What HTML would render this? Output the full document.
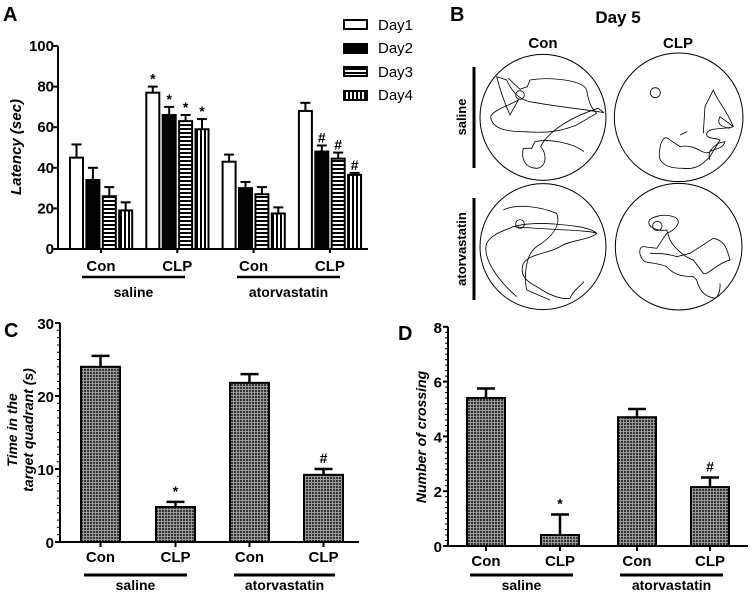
<!DOCTYPE html>
<html><head><meta charset="utf-8"><style>
body{margin:0;background:#fff}
svg{display:block;font-family:"Liberation Sans",sans-serif;font-weight:bold}
</style></head><body>
<svg id="fig" width="750" height="594" viewBox="0 0 750 594">
<defs>
<pattern id="dots" width="3" height="3" patternUnits="userSpaceOnUse"><rect width="3" height="3" fill="#9a9a9a"/><rect width="2" height="2" fill="#333"/></pattern>
<pattern id="hstripe" width="4" height="4" patternUnits="userSpaceOnUse"><rect width="4" height="4" fill="#fff"/><rect width="4" height="2" fill="#000"/></pattern>
<pattern id="vstripe" width="4" height="4" patternUnits="userSpaceOnUse"><rect width="4" height="4" fill="#fff"/><rect width="2" height="4" fill="#000"/></pattern>
</defs>

<!-- Panel A -->
<g id="panelA">
<text x="3" y="21" font-size="20">A</text>
<text transform="translate(21,147) rotate(-90)" text-anchor="middle" font-size="15" font-style="italic">Latency (sec)</text>
<g id="aAxes"></g><g id="aBars"></g>
<g>
<g><rect x="344" y="20" width="23" height="9" fill="#fff" stroke="#000" stroke-width="2"/><text x="378" y="30" font-size="15" font-weight="normal">Day1</text></g>
<g><rect x="344" y="44" width="23" height="9" fill="#000" stroke="#000" stroke-width="2"/><text x="378" y="53" font-size="15" font-weight="normal">Day2</text></g>
<g><rect x="344" y="67" width="23" height="9" fill="url(#hstripe)" stroke="#000" stroke-width="2"/><text x="378" y="77" font-size="15" font-weight="normal">Day3</text></g>
<g><rect x="344" y="91" width="23" height="9" fill="url(#vstripe)" stroke="#000" stroke-width="2"/><text x="378" y="100" font-size="15" font-weight="normal">Day4</text></g>
</g>
</g>

<!-- Panel B -->
<g id="panelB" fill="none" stroke="#000">
<text x="450" y="21" font-size="20" fill="#000" stroke="none">B</text>
<text x="618" y="23" font-size="17" text-anchor="middle" fill="#000" stroke="none">Day 5</text>
<text x="543" y="48" font-size="15" text-anchor="middle" fill="#000" stroke="none">Con</text>
<text x="678" y="48" font-size="15" text-anchor="middle" fill="#000" stroke="none">CLP</text>
<line x1="474" y1="67" x2="474" y2="168" stroke-width="3"/>
<text transform="translate(466,117) rotate(-90)" font-size="13" text-anchor="middle" fill="#000" stroke="none">saline</text>
<line x1="474" y1="198" x2="474" y2="300" stroke-width="3"/>
<text transform="translate(466,249) rotate(-90)" font-size="13" text-anchor="middle" fill="#000" stroke="none">atorvastatin</text>
<g transform="translate(450,0) scale(0.3333)" stroke-width="2.5">
<circle cx="279" cy="352" r="189" stroke-width="3"/>
<circle cx="686" cy="352" r="193" stroke-width="3"/>
<circle cx="279" cy="740" r="189" stroke-width="3"/>
<circle cx="686" cy="740" r="190" stroke-width="3"/>
<circle cx="210" cy="285" r="13"/><circle cx="616" cy="278" r="15"/><circle cx="210" cy="672" r="13"/><circle cx="622" cy="678" r="14"/>
<path d="M402,455 C370,430 300,415 255,425 L245,445 L220,445 C212,480 228,505 262,505 C292,498 290,460 272,440 C300,385 380,345 445,325 L462,338 C420,330 320,320 240,305 C215,300 190,285 170,240 L140,230 C150,270 160,300 180,345 L205,300 C170,320 130,330 122,350 C125,380 155,395 220,395 C290,400 330,395 380,375 L440,340 C420,320 415,300 410,270 C400,240 300,230 240,240 L232,260 L210,268 L175,235"/>
<path d="M780,480 C770,455 790,440 805,430 L825,425 C818,450 790,445 780,455 C760,470 740,430 690,440 L660,420 C640,400 630,430 628,460 C625,490 650,505 700,505 C740,510 760,490 780,470 L810,420 C790,410 770,420 770,400 C780,380 820,390 850,380 C830,330 800,300 790,270 L765,320 L760,400 M850,380 L810,350 C800,370 810,380 840,385 M690,405 L712,395"/>
<path d="M402,845 C390,860 370,870 360,895 C330,900 290,880 260,860 C220,840 210,820 220,790 C240,760 300,760 330,740 C360,720 420,720 440,700 C420,680 350,675 310,672 C260,668 220,672 190,680 C170,690 125,700 110,730 C100,760 120,820 200,890 M160,630 C200,610 270,620 320,640 C335,680 300,715 260,740 C230,760 220,820 230,870 L300,900 M190,680 C300,690 420,690 440,700"/>
<path d="M810,850 C812,870 805,890 795,895 C770,890 750,880 740,840 L730,830 C700,830 670,825 650,800 C630,790 600,790 585,785 C565,770 565,740 580,740 L620,745 L650,700 C680,690 700,660 670,650 C640,640 610,650 598,660 C590,680 620,695 650,690 L660,720 C670,740 700,770 730,780 L760,820 C770,830 800,790 840,780 C830,740 820,720 790,715 L720,760 L680,770 C650,760 620,760 600,760"/>
</g>
</g>

<!-- Panel C -->
<g id="panelC">
<text x="4" y="337" font-size="20">C</text>
<text transform="translate(17,430) rotate(-90)" text-anchor="middle" font-size="14" font-style="italic">Time in the</text>
<text transform="translate(33,430) rotate(-90)" text-anchor="middle" font-size="14" font-style="italic">target quadrant (s)</text>
<g id="cChart"></g>
</g>

<!-- Panel D -->
<g id="panelD">
<text x="398" y="340" font-size="20">D</text>
<text transform="translate(426,437) rotate(-90)" text-anchor="middle" font-size="14" font-style="italic">Number of crossing</text>
<g id="dChart"></g>
</g>
</svg>
<script>
// Panel A data
const aGroups = ["Con","CLP","Con","CLP"];
const aDays = ["Day1","Day2","Day3","Day4"];
const aValues = [[45,34,26,19],[77,66,63,59],[43,30,27,17.5],[68,48,44.5,36.5]];
const aErrors = [[6.5,6,4.5,4],[3,4,3,5],[3.5,3,3.5,3],[4,3,3,1]];
const aMarks = [["","","",""],["*","*","*","*"],["","","",""],["","#","#","#"]];
const aTicks = [0,20,40,60,80,100];
// Panel C data
const cCategories = ["Con","CLP","Con","CLP"];
const cValues = [24,4.8,21.8,9.2];
const cErrors = [1.5,0.7,1.2,0.8];
const cMarks = ["","*","","#"];
const cTicks = [0,10,20,30];
// Panel D data
const dCategories = ["Con","CLP","Con","CLP"];
const dValues = [5.4,0.4,4.7,2.15];
const dErrors = [0.35,0.75,0.3,0.35];
const dMarks = ["","*","","#"];
const dTicks = [0,2,4,6,8];
const treatments = ["saline","atorvastatin"];

const NS="http://www.w3.org/2000/svg";
function mk(parent,tag,attrs,txt){const e=document.createElementNS(NS,tag);for(const k in attrs)e.setAttribute(k,attrs[k]);if(txt!==undefined)e.textContent=txt;parent.appendChild(e);return e;}

// ---- Panel A
(function(){
  const yA=v=>249-v*2.03;
  const ax=document.getElementById('aAxes'), bars=document.getElementById('aBars');
  const gx=g=>70+g*76.3, dx=d=>d*16.4, bw=13;
  const yl=mk(ax,'line',{x1:58,y1:yA(100),x2:58,y2:yA(0)+1,stroke:'#000','stroke-width':2});
  
  
  const xl=mk(ax,'line',{x1:57,y1:yA(0),x2:368,y2:yA(0),stroke:'#000','stroke-width':2});
  
  
  aTicks.forEach(t=>{
    mk(ax,'line',{x1:53,y1:yA(t),x2:58,y2:yA(t),stroke:'#000','stroke-width':2});
    const tl=mk(ax,'text',{x:54,y:yA(t)+5,'text-anchor':'end','font-size':15},t);
    
    
  });
  const fills=['#fff','#000','url(#hstripe)','url(#vstripe)'];
  aGroups.forEach((g,gi)=>{
    aDays.forEach((d,di)=>{
      const x=gx(gi)+dx(di), v=aValues[gi][di], e=aErrors[gi][di], cx=x+bw/2;
      mk(bars,'line',{x1:cx,y1:yA(v),x2:cx,y2:yA(v+e),stroke:'#000','stroke-width':2});
      mk(bars,'line',{x1:cx-5,y1:yA(v+e),x2:cx+5,y2:yA(v+e),stroke:'#000','stroke-width':2});
      const r=mk(bars,'rect',{x:x,y:yA(v),width:bw,height:yA(0)-yA(v),fill:fills[di],stroke:'#000','stroke-width':2});
      
      
      if(aMarks[gi][di]){const m=mk(bars,'text',{x:cx,y:yA(v+e)-3,'text-anchor':'middle','font-size':14},aMarks[gi][di]);
        
        }
    });
    const cxg=gx(gi)+31;
    mk(ax,'line',{x1:cxg,y1:yA(0),x2:cxg,y2:yA(0)+4,stroke:'#000','stroke-width':2});
    const gl=mk(ax,'text',{x:cxg,y:271,'text-anchor':'middle','font-size':15},g);
    
    
  });
  treatments.forEach((t,ti)=>{
    const x1=82+ti*155, x2=x1+103;
    mk(ax,'line',{x1:x1,y1:277,x2:x2,y2:277,stroke:'#000','stroke-width':2.5});
    const tt=mk(ax,'text',{x:(x1+x2)/2,y:297,'text-anchor':'middle','font-size':14},t);
    
    
  });
})();

// ---- Panels C & D
function simple(id,cats,vals,errs,marks,ticks,y0,pxPer,axX,axEnd,barX,barW,minorStep,ulines,maxV,lblY){
  const root=document.getElementById(id);
  const y=v=>y0-v*pxPer;
  const yl=mk(root,'line',{x1:axX,y1:y(maxV),x2:axX,y2:y0+1,stroke:'#000','stroke-width':2});
  
  
  const xl=mk(root,'line',{x1:axX-1,y1:y0,x2:axEnd,y2:y0,stroke:'#000','stroke-width':2});
  
  
  for(let v=0;v<=maxV+1e-6;v+=minorStep) mk(root,'line',{x1:axX-3,y1:y(v),x2:axX,y2:y(v),stroke:'#000','stroke-width':1});
  ticks.forEach(t=>{
    mk(root,'line',{x1:axX-5,y1:y(t),x2:axX,y2:y(t),stroke:'#000','stroke-width':2});
    const tl=mk(root,'text',{x:axX-6,y:y(t)+6,'text-anchor':'end','font-size':15},t);
    
    
  });
  cats.forEach((c,i)=>{
    const x=barX[i], v=vals[i], e=errs[i], cx=x+barW/2;
    mk(root,'line',{x1:cx,y1:y(v),x2:cx,y2:y(v+e),stroke:'#000','stroke-width':2.5});
    mk(root,'line',{x1:cx-9,y1:y(v+e),x2:cx+9,y2:y(v+e),stroke:'#000','stroke-width':2.5});
    const r=mk(root,'rect',{x:x,y:y(v),width:barW,height:y0-y(v),fill:'url(#dots)',stroke:'#000','stroke-width':2});
    
    
    if(marks[i]){const m=mk(root,'text',{x:cx,y:y(v+e)-6,'text-anchor':'middle','font-size':14},marks[i]);
      
      }
    mk(root,'line',{x1:cx,y1:y0,x2:cx,y2:y0+5,stroke:'#000','stroke-width':2});
    const l=mk(root,'text',{x:cx,y:lblY,'text-anchor':'middle','font-size':15},c);
    
    
  });
  treatments.forEach((t,ti)=>{
    const [x1,x2]=ulines[ti];
    mk(root,'line',{x1:x1,y1:575,x2:x2,y2:575,stroke:'#000','stroke-width':3});
    const tt=mk(root,'text',{x:(x1+x2)/2,y:590,'text-anchor':'middle','font-size':14},t);
    
    
  });
}
simple('cChart',cCategories,cValues,cErrors,cMarks,cTicks,542,7.3,60,359,[81,156,230,304],39,1,[[84,187],[234,335]],30,562);
simple('dChart',dCategories,dValues,dErrors,dMarks,dTicks,546,27.4,448,748,[467,541,618,691],38,0.2,[[470,573],[620,723]],8,566);
</script>
</body></html>
